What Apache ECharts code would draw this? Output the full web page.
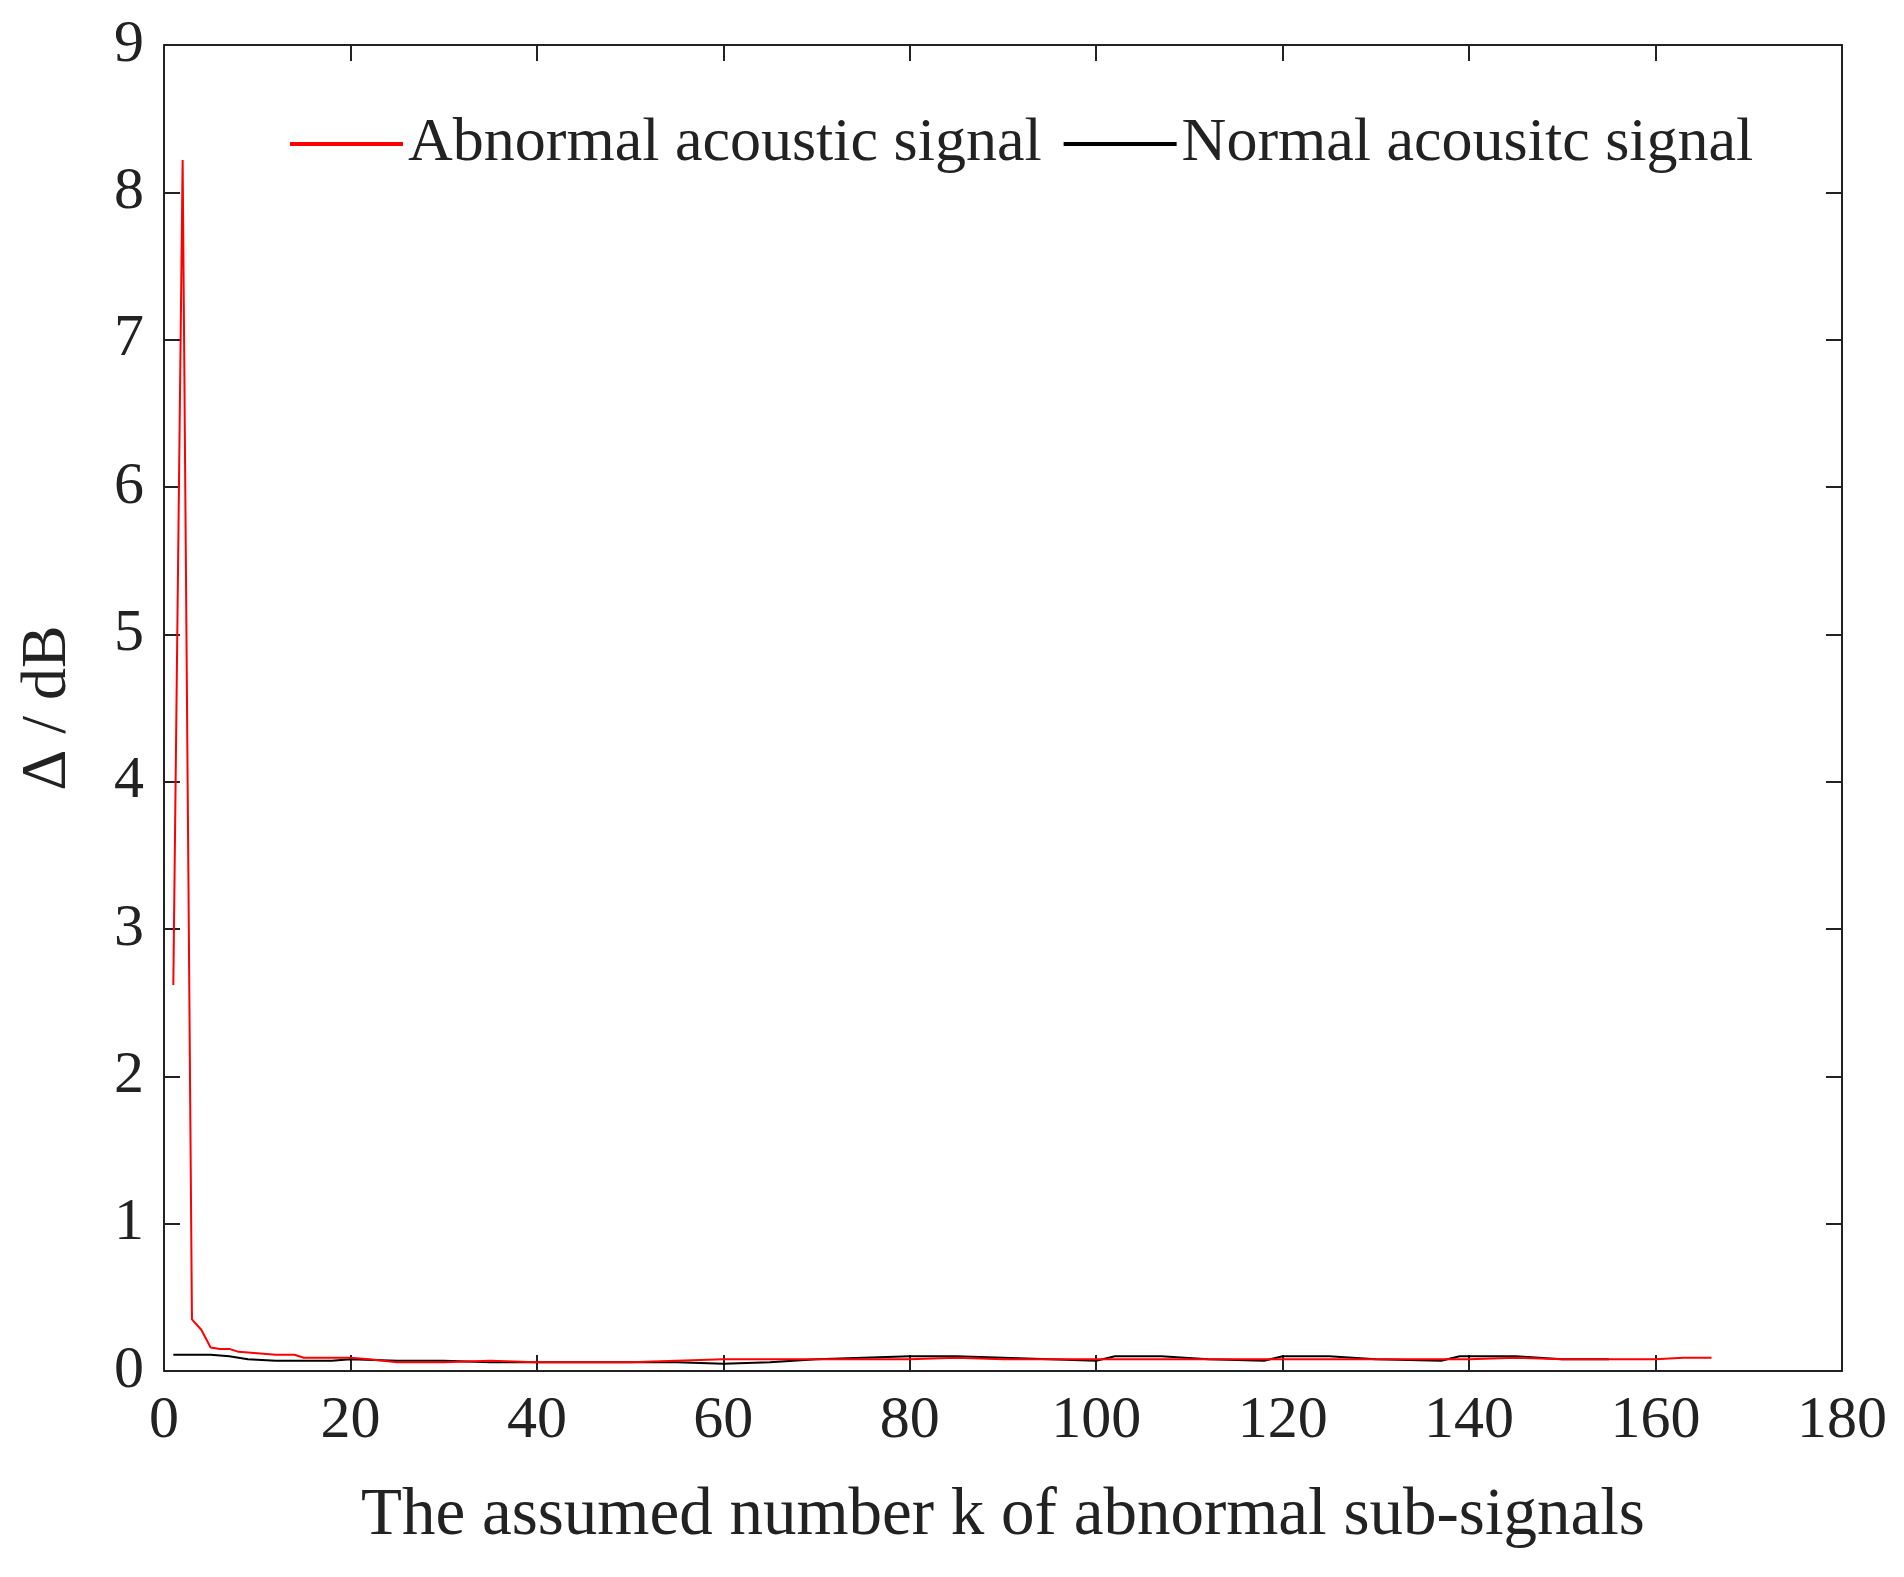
<!DOCTYPE html>
<html>
<head>
<meta charset="utf-8">
<script src="https://cdn.jsdelivr.net/npm/echarts@6/dist/echarts.min.js"></script>
<style>html,body{margin:0;background:#fff}#c{width:1904px;height:1577px}</style>
</head>
<body>
<div id="c"></div>
<script>
// k values and Δ (dB)
const abnormal = [
  [1, 2.62], [2, 8.22], [3, 0.35], [4, 0.28], [5, 0.16], [6, 0.15], [7, 0.15], [8, 0.13],
  [10, 0.12], [12, 0.11], [14, 0.11], [15, 0.09], [18, 0.09], [20, 0.09], [22, 0.08],
  [25, 0.06], [30, 0.06], [35, 0.07], [40, 0.06], [45, 0.06], [50, 0.06], [55, 0.07],
  [60, 0.08], [65, 0.08], [70, 0.08], [75, 0.08], [80, 0.08], [85, 0.09], [90, 0.08],
  [95, 0.08], [100, 0.08], [105, 0.08], [110, 0.08], [115, 0.08], [120, 0.08], [125, 0.08],
  [130, 0.08], [135, 0.08], [140, 0.08], [145, 0.09], [150, 0.08], [155, 0.08], [160, 0.08],
  [163, 0.09], [166, 0.09]
];
const normal = [
  [1, 0.11], [3, 0.11], [5, 0.11], [7, 0.1], [9, 0.08], [12, 0.07], [15, 0.07], [18, 0.07],
  [20, 0.08], [25, 0.07], [30, 0.07], [35, 0.06], [40, 0.06], [45, 0.06], [50, 0.06],
  [55, 0.06], [60, 0.05], [65, 0.06], [70, 0.08], [75, 0.09], [80, 0.1], [85, 0.1], [90, 0.09],
  [95, 0.08], [100, 0.07], [102, 0.1], [107, 0.1], [112, 0.08], [118, 0.07], [120, 0.1],
  [125, 0.1], [130, 0.08], [137, 0.07], [139, 0.1], [145, 0.1], [150, 0.08], [155, 0.08]
];
const xTicks = [0, 180, 20];
const yTicks = [0, 9, 1];

const font = 'Liberation Serif';
const chart = echarts.init(document.getElementById('c'));
const axisLine = { show: true, onZero: false, lineStyle: { color: '#222', width: 2 } };
const tickIn = { show: true, inside: true, length: 16, lineStyle: { color: '#222', width: 2 } };
chart.setOption({
  animation: false,
  grid: { left: 164, right: 62, top: 45, bottom: 206 },
  legend: {
    left: 285, top: 108, itemWidth: 113, itemHeight: 4, itemGap: 22, icon: 'rect',
    textStyle: { fontFamily: font, fontSize: 62, color: '#222' },
    data: ['Abnormal acoustic signal', 'Normal acousitc signal']
  },
  xAxis: [
    {
      type: 'value', min: xTicks[0], max: xTicks[1], interval: xTicks[2],
      name: 'The assumed number k of abnormal sub-signals', nameLocation: 'middle', nameGap: 112,
      nameTextStyle: { fontFamily: font, fontSize: 67, color: '#222' },
      axisLine, axisTick: tickIn, splitLine: { show: false },
      axisLabel: { fontFamily: font, fontSize: 60, color: '#222', margin: 20 }
    },
    {
      type: 'value', position: 'top', min: xTicks[0], max: xTicks[1], interval: xTicks[2],
      axisLine, axisTick: tickIn, axisLabel: { show: false }, splitLine: { show: false }
    }
  ],
  yAxis: [
    {
      type: 'value', min: yTicks[0], max: yTicks[1], interval: yTicks[2],
      name: 'Δ / dB', nameLocation: 'middle', nameGap: 84,
      nameTextStyle: { fontFamily: font, fontSize: 64, color: '#222' },
      axisLine, axisTick: tickIn, splitLine: { show: false },
      axisLabel: { fontFamily: font, fontSize: 60, color: '#222', margin: 20 }
    },
    {
      type: 'value', position: 'right', min: yTicks[0], max: yTicks[1], interval: yTicks[2],
      axisLine, axisTick: tickIn, axisLabel: { show: false }, splitLine: { show: false }
    }
  ],
  series: [
    { name: 'Abnormal acoustic signal', type: 'line', data: abnormal, showSymbol: false,
      lineStyle: { color: '#ff0000', width: 2 }, itemStyle: { color: '#ff0000' }, z: 3 },
    { name: 'Normal acousitc signal', type: 'line', data: normal, showSymbol: false,
      lineStyle: { color: '#000', width: 2 }, itemStyle: { color: '#000' }, z: 2 }
  ]
});
</script>
</body>
</html>
